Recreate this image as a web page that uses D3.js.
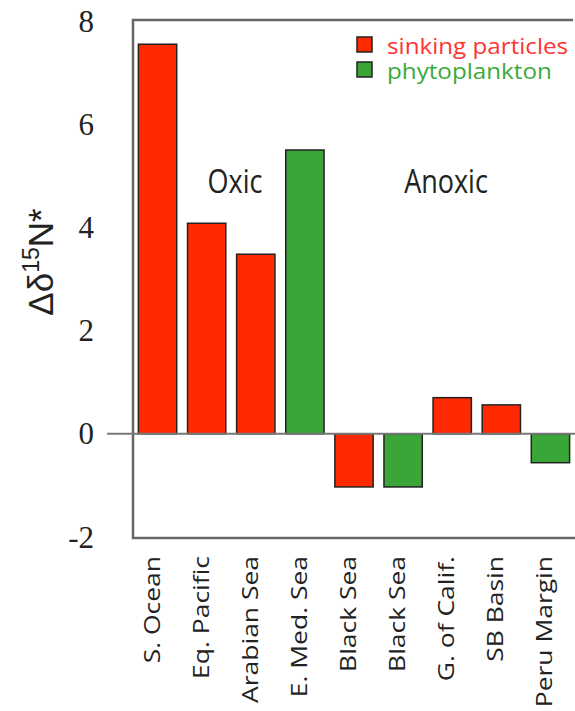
<!DOCTYPE html>
<html><head><meta charset="utf-8">
<script src="https://cdn.jsdelivr.net/npm/d3@7"></script>
<style>body{margin:0;background:#fff}svg{display:block}</style>
</head><body>
<script>
const categories = ["S. Ocean","Eq. Pacific","Arabian Sea","E. Med. Sea","Black Sea","Black Sea","G. of Calif.","SB Basin","Peru Margin"];
const values = [7.55, 4.08, 3.48, 5.5, -1.03, -1.03, 0.7, 0.56, -0.56];
const types = ["sinking particles","sinking particles","sinking particles","phytoplankton","sinking particles","phytoplankton","sinking particles","sinking particles","phytoplankton"];
const yTicks = [-2, 0, 2, 4, 6, 8];
const legendLabels = ["sinking particles","phytoplankton"];
const regionLabels = ["Oxic","Anoxic"];

const W = 575, H = 711;
const svg = d3.select("body").append("svg").attr("width", W).attr("height", H);
const color = d3.scaleOrdinal().domain(legendLabels).range(["#ff2a00","#3aa637"]);
const textColor = d3.scaleOrdinal().domain(legendLabels).range(["#ff3333","#3aaa3a"]);
const sans = "Open Sans, DejaVu Sans, sans-serif";

const x = d3.scaleBand().domain(d3.range(categories.length)).range([133, 575]).paddingInner(0.22).paddingOuter(0.11);
const y = d3.scaleLinear().domain([-2, 8]).range([537, 21]);

// frame
svg.append("path").attr("d", `M${573},${y(8)-1}H133V${y(-2)+1}H575`).attr("fill","none").attr("stroke","#666").attr("stroke-width",2.5);

// tick labels
svg.append("g").selectAll("text").data(yTicks).join("text")
  .attr("x", 94).attr("y", d => y(d)).attr("dy","0.34em").attr("text-anchor","end")
  .attr("font-family","Liberation Serif, Times New Roman, serif").attr("font-size",31).attr("fill","#222")
  .text(d => d);

// bars
svg.append("g").selectAll("rect").data(values).join("rect")
  .attr("x", (d,i) => x(i)).attr("width", x.bandwidth())
  .attr("y", d => y(Math.max(0,d))).attr("height", d => Math.abs(y(d)-y(0)))
  .attr("fill", (d,i) => color(types[i])).attr("stroke","#222").attr("stroke-width",1.5);

// zero line
svg.append("line").attr("x1",107).attr("x2",575).attr("y1",y(0)).attr("y2",y(0)).attr("stroke","#777").attr("stroke-width",2);

// x labels
svg.append("g").selectAll("text").data(categories).join("text")
  .attr("transform",(d,i)=>`translate(${x(i)+x.bandwidth()/2+2},556) rotate(-90) scale(1.26,1)`)
  .attr("text-anchor","end").attr("font-family",sans).attr("font-size",21).attr("fill","#222")
  .text(d=>d);

// region labels
svg.append("g").selectAll("text").data(regionLabels).join("text")
  .attr("transform",(d,i)=>`translate(${[235,446][i]},193) scale(1,1.19)`)
  .attr("text-anchor","middle").attr("font-family",sans).attr("font-size",27).attr("fill","#222").text(d=>d);

// legend
const lg = svg.append("g").selectAll("g").data(legendLabels).join("g").attr("transform",(d,i)=>`translate(357,${37+i*25})`);
lg.append("rect").attr("width",15).attr("height",15).attr("fill",d=>color(d)).attr("stroke","#222").attr("stroke-width",1.5);
lg.append("text").attr("transform","translate(30,17) scale(1.1,1)").attr("font-family",sans).attr("font-size",22).attr("fill",d=>textColor(d)).text(d=>d);

// y title
const yt = svg.append("text").attr("transform","translate(53,262) rotate(-90)").attr("text-anchor","middle")
  .attr("font-family","Liberation Sans, Arial, sans-serif").attr("font-size",35).attr("fill","#222");
yt.append("tspan").text("\u0394\u03b4");
yt.append("tspan").attr("font-size",23).attr("dy",-14).text("15");
yt.append("tspan").attr("dy",14).text("N*");
</script>
</body></html>
